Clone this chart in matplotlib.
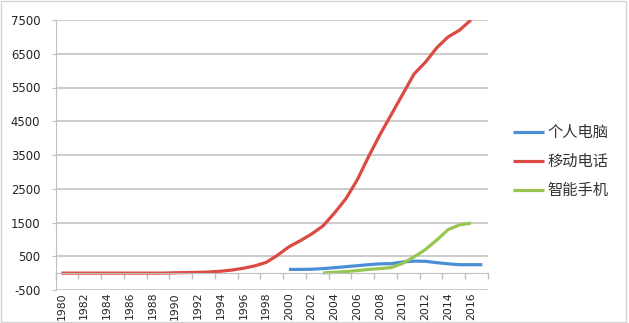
import numpy as np
import matplotlib
matplotlib.use('Agg')
import matplotlib.pyplot as plt
from matplotlib.patches import Rectangle
from matplotlib.font_manager import FontProperties

plt.rcParams['font.family'] = ['DejaVu Sans']
plt.rcParams['axes.unicode_minus'] = False

# data (millions)
pc_years = list(range(2000, 2018))
pc = [110, 110, 115, 135, 160, 190, 220, 250, 275, 280,
      330, 355, 350, 310, 275, 250, 250, 250]

mobile_years = list(range(1980, 2017))
mobile = [0, 0, 0, 0, 0, 0, 0, 0, 0, 0,
          10, 16, 23, 34, 56, 91, 145, 215, 318, 530,
          780, 960, 1160, 1400, 1780, 2200, 2760, 3450, 4100, 4700,
          5300, 5900, 6250, 6680, 7000, 7200, 7500]

smart_years = list(range(2003, 2017))
smart = [5, 25, 45, 75, 110, 135, 165, 290, 480, 700, 980, 1290, 1430, 1480]

labels = ['个人电脑', '移动电话', '智能手机']
colors = ['#4A8FD6', '#DC4A44', '#98C652']

W, H = 629, 323
fig = plt.figure(figsize=(W / 100, H / 100), dpi=100)
ax = fig.add_axes([55.7 / W, 1 - 290 / H, (488 - 55.7) / W, (290 - 20) / H])

grey = '#BFBFBF'
ax.plot(pc_years, pc, color=colors[0], lw=2.3, label=labels[0], solid_capstyle='butt')
ax.plot(mobile_years, mobile, color=colors[1], lw=2.3, label=labels[1], solid_capstyle='butt')
ax.plot(smart_years, smart, color=colors[2], lw=2.3, label=labels[2], solid_capstyle='butt')

ax.set_xlim(1979.5, 2017.5)
ax.set_ylim(-500, 7500)
ax.set_yticks(range(-500, 7501, 1000))
ax.set_xticks(range(1980, 2017, 2))
ax.set_xticks(np.arange(1979.5, 2018, 2), minor=True)

ax.yaxis.grid(True, color=grey, lw=1.1)
ax.set_axisbelow(True)

for s in ['top', 'right']:
    ax.spines[s].set_visible(False)
ax.spines['left'].set_color(grey)
ax.spines['bottom'].set_color(grey)
ax.spines['bottom'].set_position(('data', 0))

ax.tick_params(axis='y', length=3, color=grey, pad=8, labelsize=8.4, labelcolor='#222222')
ax.tick_params(axis='x', which='major', length=0, pad=13.5, labelsize=7.8,
               labelrotation=90, labelcolor='#222222')
ax.tick_params(axis='x', which='minor', length=4, color=grey, width=1)

leg = ax.legend(loc='center left', bbox_to_anchor=(513 / W, 1 - 161.7 / H),
                bbox_transform=fig.transFigure, frameon=False,
                prop=FontProperties(family='Noto Sans CJK SC', size=11),
                handlelength=2.05, handletextpad=0.2, labelspacing=0.78,
                borderpad=0, borderaxespad=0)
for t in leg.get_texts():
    t.set_color('#333333')

fig.patches.append(Rectangle((1 / W, 1 / H), 625 / W, 321 / H, transform=fig.transFigure,
                             fill=False, ec='#D4D4D4', lw=1))

fig.savefig('out.png', dpi=100)
